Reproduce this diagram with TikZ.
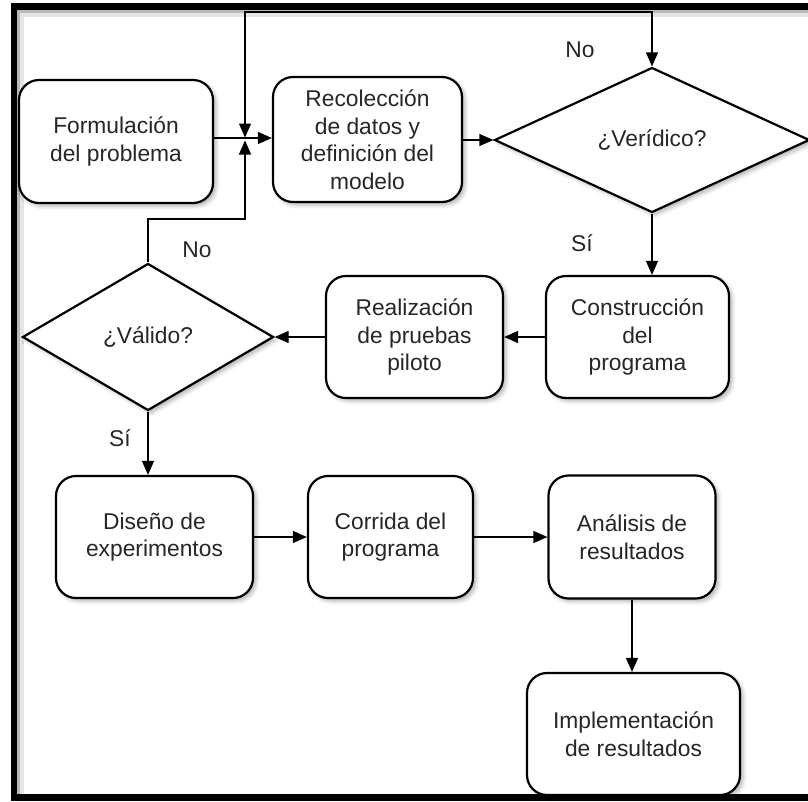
\documentclass[tikz,border=0pt]{standalone}
\usepackage{fontspec}
\setmainfont{Liberation Sans}
\usetikzlibrary{shapes.geometric,arrows.meta,shadows.blur}

\begin{document}
\begin{tikzpicture}[x=1pt,y=-1pt,
  txt/.style={font=\fontsize{22.8}{27.5}\selectfont, text=black!85},
  shade/.style={blur shadow={shadow xshift=3pt,shadow yshift=-3pt,shadow blur radius=4pt,shadow opacity=30}},
  box/.style={draw, line width=2.2pt, rounded corners=20pt, fill=white, align=center,
              inner sep=0pt, txt, shade},
  decision/.style={draw, diamond, aspect=2, line width=2.2pt, fill=white, align=center,
              inner sep=0pt, txt, shade},
  flowtip/.tip={Triangle[length=14pt,width=12pt]},
  arr/.style={line width=1.2pt, -{flowtip}},
  lbl/.style={txt, inner sep=0pt}
]
\useasboundingbox (0,0) rectangle (808,801);

% outer frame with its soft inner shadow
\draw[line width=4pt, black!10, line cap=butt] (808,15) -- (22,15) -- (22,801);
\draw[line width=3pt, black!28, line cap=butt] (808,11.5) -- (18.5,11.5) -- (18.5,801);
\draw[line width=6.5pt, line cap=butt] (808,6.5) -- (14,6.5) -- (14,797.5) -- (808,797.5);

% process steps
\node[box, minimum width=194pt, minimum height=123pt] (form) at (116,141.5) {Formulación\\del problema};
\node[box, minimum width=189pt, minimum height=125pt] (rec)  at (367.5,139.5) {Recolección\\de datos y\\definición del\\modelo};
\node[decision, minimum width=315pt, minimum height=145pt] (ver) at (652,140) {¿Verídico?};
\node[box, minimum width=183pt, minimum height=122pt] (cons) at (637.5,337) {Construcción\\del\\programa};
\node[box, minimum width=177pt, minimum height=122pt] (real) at (414.5,337) {Realización\\de pruebas\\piloto};
\node[decision, minimum width=251pt, minimum height=147pt] (val) at (148,337) {¿Válido?};
\node[box, minimum width=197pt, minimum height=122pt] (dis)  at (154.5,537) {Diseño de\\experimentos};
\node[box, minimum width=165pt, minimum height=122pt] (cor)  at (390.5,537) {Corrida del\\programa};
\node[box, minimum width=167pt, minimum height=123pt] (ana)  at (632,537) {Análisis de\\resultados};
\node[box, minimum width=213pt, minimum height=122pt] (impl) at (633.5,734) {Implementación\\de resultados};

% junction points of the feedback loops
\coordinate (Jt) at (245,137.5);
\coordinate (Jb) at (245,140.5);
\coordinate (H)  at (245,138);
\coordinate (T)  at (245,12);
\coordinate (L)  at (245,219);

% connectors
\draw[arr] (form.east |- H) -- (rec.west |- H);
\draw[line width=1.2pt, {flowtip}-{flowtip}] (Jt) -- (T) -- (ver.north |- T) -- (ver.north);
\draw[arr] (val.north) |- (L) -- (Jb);
\draw[arr] (rec.east |- ver.west) -- (ver.west);
\draw[arr] (ver.south) -- (ver.south |- cons.north);
\draw[arr] (cons.west) -- (real.east);
\draw[arr] (real.west) -- (val.east);
\draw[arr] (val.south) -- (val.south |- dis.north);
\draw[arr] (dis.east) -- (cor.west);
\draw[arr] (cor.east) -- (ana.west);
\draw[arr] (ana.south) -- (ana.south |- impl.north);

% branch labels
\node[lbl] (noV) at (580,50) {No};
\node[lbl] (siV) at (582,243) {Sí};
\node[lbl] (noA) at (197,250) {No};
\node[lbl] (siA) at (120,438) {Sí};
\end{tikzpicture}
\end{document}
